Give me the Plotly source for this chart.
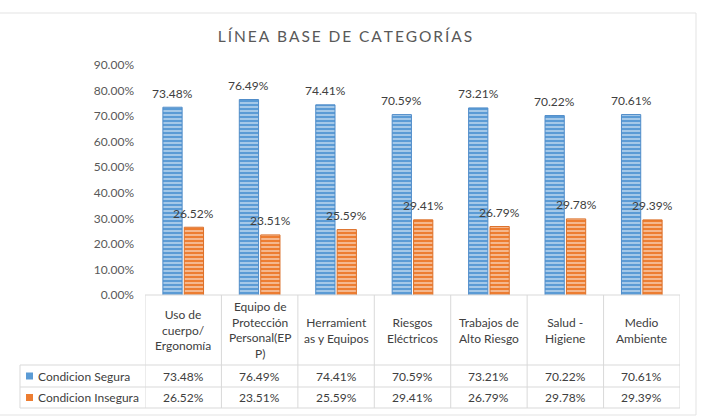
import plotly.graph_objects as go

categories = ["Uso de cuerpo/ Ergonomía", "Equipo de Protección Personal(EPP)",
              "Herramientas y Equipos", "Riesgos Eléctricos", "Trabajos de Alto Riesgo",
              "Salud - Higiene", "Medio Ambiente"]
header_labels = ["Uso de<br>cuerpo/<br>Ergonomía", "Equipo de<br>Protección<br>Personal(EP<br>P)",
                 "Herramient<br>as y Equipos", "Riesgos<br>Eléctricos", "Trabajos de<br>Alto Riesgo",
                 "Salud -<br>Higiene", "Medio<br>Ambiente"]
segura = [0.7348, 0.7649, 0.7441, 0.7059, 0.7321, 0.7022, 0.7061]
insegura = [0.2652, 0.2351, 0.2559, 0.2941, 0.2679, 0.2978, 0.2939]
series_names = ["Condicion Segura", "Condicion Insegura"]
title_text = "LÍNEA BASE DE CATEGORÍAS"

BLUE = "#5B9BD5"
ORANGE = "#ED7D31"
TXT = "#404040"
AX = "#595959"
GRID = "#D9D9D9"
FONT = "Lato"

W, H = 701, 419
L, R, T, B = 145, 21, 65, 124
pw, ph = W - L - R, H - T - B
cat_px = pw / len(categories)
bargap, bargroupgap = 0.44, 0.1
off = (1 - bargap) / 4 * cat_px

def py(p):  # pixel y -> paper y
    return (H - B - p) / ph

def px(p):  # pixel x -> paper x
    return (p - L) / pw

fig = go.Figure()
for name, vals, col, line in [(series_names[0], segura, BLUE, "#4F8CC9"),
                              (series_names[1], insegura, ORANGE, "#DC7029")]:
    fig.add_trace(go.Bar(
        x=categories, y=vals, name=name,
        marker=dict(color=col, line=dict(color=line, width=1),
                    pattern=dict(shape="-", fgcolor="white", fgopacity=0.75,
                                 size=4, solidity=0.3, fillmode="overlay")),
        showlegend=False, hoverinfo="skip"))

annotations = []
shapes = []
# data labels
for vals, sh in [(segura, -off), (insegura, off)]:
    for c, v in zip(categories, vals):
        annotations.append(dict(x=c, y=v, xref="x", yref="y", text=f"{v*100:.2f}%",
                                showarrow=False, xshift=sh, yshift=14, yanchor="middle",
                                font=dict(family=FONT, size=12, color=TXT)))

# table geometry (pixels)
top, hdr, r1, bot = 295, 365, 387, 408
left = 20
line = dict(color=GRID, width=1)
shapes.append(dict(type="line", xref="paper", yref="paper", x0=0, x1=1,
                   y0=py(top), y1=py(top), line=line))
for yy in [hdr, r1, bot]:
    shapes.append(dict(type="line", xref="paper", yref="paper", x0=px(left), x1=1,
                       y0=py(yy), y1=py(yy), line=line))
for i in range(len(categories) + 1):
    shapes.append(dict(type="line", xref="x", yref="paper", x0=i - 0.5, x1=i - 0.5,
                       y0=py(top), y1=py(bot), line=line))
shapes.append(dict(type="line", xref="paper", yref="paper", x0=px(left), x1=px(left),
                   y0=py(hdr), y1=py(bot), line=line))
# outer frame
shapes.append(dict(type="rect", xref="paper", yref="paper", x0=px(-2), x1=px(696),
                   y0=py(415), y1=py(13), line=dict(color="#E3E3E3", width=1)))

# header cells
for c, lab in zip(categories, header_labels):
    annotations.append(dict(x=c, y=py((top + hdr) / 2), xref="x", yref="paper", text=lab,
                            showarrow=False, yanchor="middle", align="center",
                            font=dict(family=FONT, size=12, color=TXT)))
# value rows
for vals, yc in [(segura, (hdr + r1) / 2), (insegura, (r1 + bot) / 2)]:
    for c, v in zip(categories, vals):
        annotations.append(dict(x=c, y=py(yc), xref="x", yref="paper", text=f"{v*100:.2f}%",
                                showarrow=False, yanchor="middle",
                                font=dict(family=FONT, size=12, color=TXT)))
# legend cells
for name, col, yc in [(series_names[0], BLUE, (hdr + r1) / 2), (series_names[1], ORANGE, (r1 + bot) / 2)]:
    shapes.append(dict(type="rect", xref="paper", yref="paper", x0=px(26), x1=px(33),
                       y0=py(yc + 3.5), y1=py(yc - 3.5), fillcolor=col, line=dict(width=0)))
    annotations.append(dict(x=px(36), y=py(yc), xref="paper", yref="paper", text=name,
                            showarrow=False, xanchor="left", yanchor="middle",
                            font=dict(family=FONT, size=12, color=TXT)))

spaced = "\u2009".join(title_text)

fig.update_layout(
    width=W, height=H,
    margin=dict(l=L, r=R, t=T, b=B),
    paper_bgcolor="white", plot_bgcolor="white",
    barmode="group", bargap=bargap, bargroupgap=bargroupgap,
    title=dict(text=spaced, x=345 / W, y=1 - 37 / H, xref="container", yref="container",
               xanchor="center", yanchor="middle",
               font=dict(family=FONT, size=15.5, color=AX)),
    xaxis=dict(type="category", range=[-0.5, len(categories) - 0.5], showticklabels=False,
               showline=False, showgrid=False, zeroline=False, ticks=""),
    yaxis=dict(range=[0, 0.9], dtick=0.1, tickformat=".2%", showgrid=False, zeroline=False,
               showline=False, ticks="", ticklabelstandoff=10,
               tickfont=dict(family=FONT, size=12, color=AX)),
    shapes=shapes, annotations=annotations,
    font=dict(family=FONT),
)

fig.write_html("out.html", config={"displayModeBar": False},
               post_script="document.body.style.margin='0';document.body.style.overflow='hidden';")
